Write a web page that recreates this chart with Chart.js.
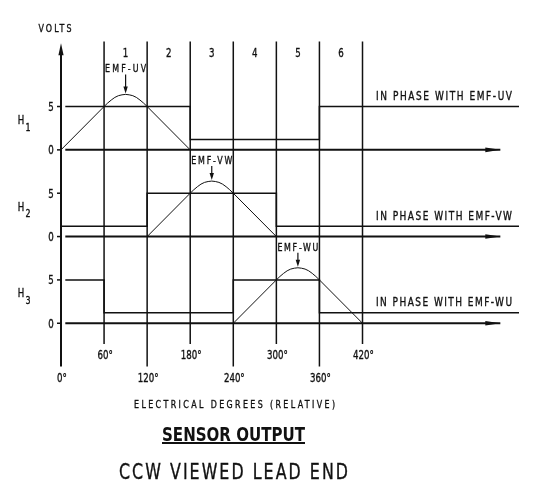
<!DOCTYPE html>
<html>
<head>
<meta charset="utf-8">
<script src="https://cdn.jsdelivr.net/npm/chart.js@4.4.1/dist/chart.umd.min.js"></script>
<style>
    html, body { margin: 0; padding: 0; background: #fff; }
    #wrap { width: 540px; height: 487px; }
</style>
</head>
<body>
<div id="wrap"><canvas id="sensorChart" width="540" height="487"></canvas></div>
<script>
// Axis / label data
const degreeTicks = [0, 60, 120, 180, 240, 300, 360, 420];
const longTickDeg = [0, 120, 240, 360];
const zoneLabels = ['1', '2', '3', '4', '5', '6'];
const zoneStarts = [60, 120, 180, 240, 300, 360];
const voltTicks = [0, 5];
const hallSubs = ['1', '2', '3'];
const trackOffsets = [20, 10, 0];
const phaseNotes = ['IN PHASE WITH EMF-UV', 'IN PHASE WITH EMF-VW', 'IN PHASE WITH EMF-WU'];
const emfNames = ['EMF-UV', 'EMF-VW', 'EMF-WU'];
const emfPeakDeg = [90, 210, 330];
const emfPeakVolts = 6.4;

// Hall sensor outputs (degrees, volts)
const h1Deg = [6, 180, 180, 360, 360, 638];
const h1Volts = [5, 5, 1.2, 1.2, 5, 5];
const h2Deg = [0, 120, 120, 300, 300, 638];
const h2Volts = [1.2, 1.2, 5, 5, 1.2, 1.2];
const h3Deg = [6, 60, 60, 240, 240, 360, 360, 638];
const h3Volts = [5, 5, 1.2, 1.2, 5, 5, 1.2, 1.2];

// Back EMF, trapezoid with rounded top
const emfUvDeg = [0, 60, 65, 70, 75, 80, 85, 90, 95, 100, 105, 110, 115, 120, 180];
const emfVwDeg = [120, 180, 185, 190, 195, 200, 205, 210, 215, 220, 225, 230, 235, 240, 300];
const emfWuDeg = [240, 300, 305, 310, 315, 320, 325, 330, 335, 340, 345, 350, 355, 360, 420];
const emfVolts = [0, 5, 5.4, 5.75, 6.05, 6.25, 6.35, 6.4, 6.35, 6.25, 6.05, 5.75, 5.4, 5, 0];

// Zero reference line of each track
const zeroDeg = [6, 612];
const zeroVolts = [0, 0];

const INK = '#111';
const FONT = '"DejaVu Sans Condensed", "Liberation Sans Narrow", "DejaVu Sans", sans-serif';
const CAD_NARROW = 0.8;

function points(deg, volts, offset) {
    return deg.map((d, i) => ({ x: d, y: volts[i] + offset }));
}

function lineSet(data, width) {
    return {
        data: data,
        borderColor: INK,
        borderWidth: width,
        pointRadius: 0,
        tension: 0,
        fill: false
    };
}

const hallSeries = [[h1Deg, h1Volts], [h2Deg, h2Volts], [h3Deg, h3Volts]];
const emfSeries = [emfUvDeg, emfVwDeg, emfWuDeg];

const datasets = [];
trackOffsets.forEach((off, i) => {
    datasets.push(lineSet(points(zeroDeg, zeroVolts, off), 2));
    datasets.push(lineSet(points(hallSeries[i][0], hallSeries[i][1], off), 1.5));
    datasets.push(lineSet(points(emfSeries[i], emfVolts, off), 1));
});

// Text helper: cap-centred, narrow glyphs spread out to a target width
function drawText(ctx, str, x, cy, size, opts) {
    opts = opts || {};
    ctx.save();
    ctx.fillStyle = INK;
    ctx.strokeStyle = INK;
    ctx.font = (opts.bold ? 'bold ' : '') + size + 'px ' + FONT;
    ctx.textBaseline = 'alphabetic';
    ctx.textAlign = 'left';
    const hasLs = 'letterSpacing' in ctx;
    if (hasLs) ctx.letterSpacing = '0px';
    const w = ctx.measureText(str).width;
    let sx = opts.narrow || CAD_NARROW;
    const width = opts.width || w * sx;
    if (w * sx > width || !hasLs) sx = width / w;
    const gap = str.length > 1 ? (width - w * sx) / (str.length - 1) : 0;
    const left = opts.align === 'left' ? x : x - width / 2;
    const base = cy + size * 0.365;
    ctx.translate(left, base);
    ctx.scale(sx, 1);
    if (hasLs) ctx.letterSpacing = (gap / sx) + 'px';
    ctx.fillText(str, 0, 0);
    if (!opts.bold) {
        ctx.lineWidth = 0.35;
        ctx.strokeText(str, 0, 0);
    }
    ctx.restore();
}

function arrowHead(ctx, tipX, tipY, dx, dy, len, half) {
    // dx, dy: unit direction the arrow points to
    ctx.beginPath();
    ctx.moveTo(tipX, tipY);
    ctx.lineTo(tipX - dx * len - dy * half, tipY - dy * len + dx * half);
    ctx.lineTo(tipX - dx * len + dy * half, tipY - dy * len - dx * half);
    ctx.closePath();
    ctx.fill();
}

const diagramPlugin = {
    id: 'diagram',
    afterDatasetsDraw(chart) {
        const ctx = chart.ctx;
        const xs = chart.scales.x;
        const ys = chart.scales.y;
        const px = v => xs.getPixelForValue(v);
        const py = v => ys.getPixelForValue(v);
        ctx.save();
        ctx.strokeStyle = INK;
        ctx.fillStyle = INK;

        // vertical degree lines
        degreeTicks.forEach(d => {
            const long = longTickDeg.includes(d);
            const bottom = long ? -5 : -2.4;
            const x = px(d);
            if (d === 0) {
                ctx.lineWidth = 2;
                ctx.beginPath();
                ctx.moveTo(x, py(31.5));
                ctx.lineTo(x, py(bottom));
                ctx.stroke();
                arrowHead(ctx, x, py(32.3), 0, -1, 12, 2.6);
            } else {
                ctx.lineWidth = 1.5;
                ctx.beginPath();
                ctx.moveTo(x, ys.top);
                ctx.lineTo(x, py(bottom));
                ctx.stroke();
            }
            drawText(ctx, d + '°', x + 1, py(bottom) + 11, 12);
        });

        // volt ticks, track names, arrows on zero lines
        trackOffsets.forEach((off, i) => {
            ctx.lineWidth = 1.5;
            voltTicks.forEach(v => {
                ctx.beginPath();
                ctx.moveTo(px(0) - 4, py(v + off));
                ctx.lineTo(px(0), py(v + off));
                ctx.stroke();
                drawText(ctx, String(v), px(0) - 10, py(v + off), 12);
            });
            arrowHead(ctx, px(zeroDeg[1]), py(off), 1, 0, 15, 2.3);

            const hy = py(off + 3.5);
            drawText(ctx, 'H', 21, hy, 12);
            drawText(ctx, hallSubs[i], 28, hy + 7, 11);

            // EMF label with arrow to the peak
            const peakX = px(emfPeakDeg[i]);
            const peakY = py(emfPeakVolts + off);
            const labelY = i === 0 ? peakY - 26 : peakY - 21;
            drawText(ctx, emfNames[i], peakX, labelY, 11, { width: 41 });
            ctx.lineWidth = 1.2;
            ctx.beginPath();
            ctx.moveTo(peakX, labelY + 6);
            ctx.lineTo(peakX, peakY - 4);
            ctx.stroke();
            arrowHead(ctx, peakX, peakY - 1, 0, 1, 7, 2.2);

            // phase note over the tail of each sensor line
            const volts = hallSeries[i][1];
            const tailY = py(volts[volts.length - 1] + off);
            drawText(ctx, phaseNotes[i], 376, tailY - 11, 12.5, { width: 136, align: 'left' });
        });

        // zone numbers
        zoneStarts.forEach((d, i) => {
            drawText(ctx, zoneLabels[i], px(d + 30), 53, 12);
        });

        // titles
        drawText(ctx, 'VOLTS', 55, 28, 11, { width: 33 });
        drawText(ctx, 'ELECTRICAL DEGREES (RELATIVE)', 234.5, 404, 11, { width: 201 });
        drawText(ctx, 'SENSOR OUTPUT', 233.5, 434, 19, { width: 143, bold: true, narrow: 1 });
        ctx.lineWidth = 2;
        ctx.beginPath();
        ctx.moveTo(162, 443);
        ctx.lineTo(305, 443);
        ctx.stroke();
        drawText(ctx, 'CCW VIEWED LEAD END', 233.5, 471, 22, { width: 229 });
        ctx.restore();
    }
};

new Chart(document.getElementById('sensorChart'), {
    type: 'line',
    data: { datasets: datasets },
    options: {
        responsive: false,
        animation: false,
        events: [],
        layout: { padding: { left: 61, right: 21, top: 41.5, bottom: 120.4 } },
        scales: {
            x: { type: 'linear', min: 0, max: 638, display: false },
            y: { type: 'linear', min: -5, max: 32.5, display: false }
        },
        plugins: {
            legend: { display: false },
            tooltip: { enabled: false }
        }
    },
    plugins: [diagramPlugin]
});
</script>
</body>
</html>
